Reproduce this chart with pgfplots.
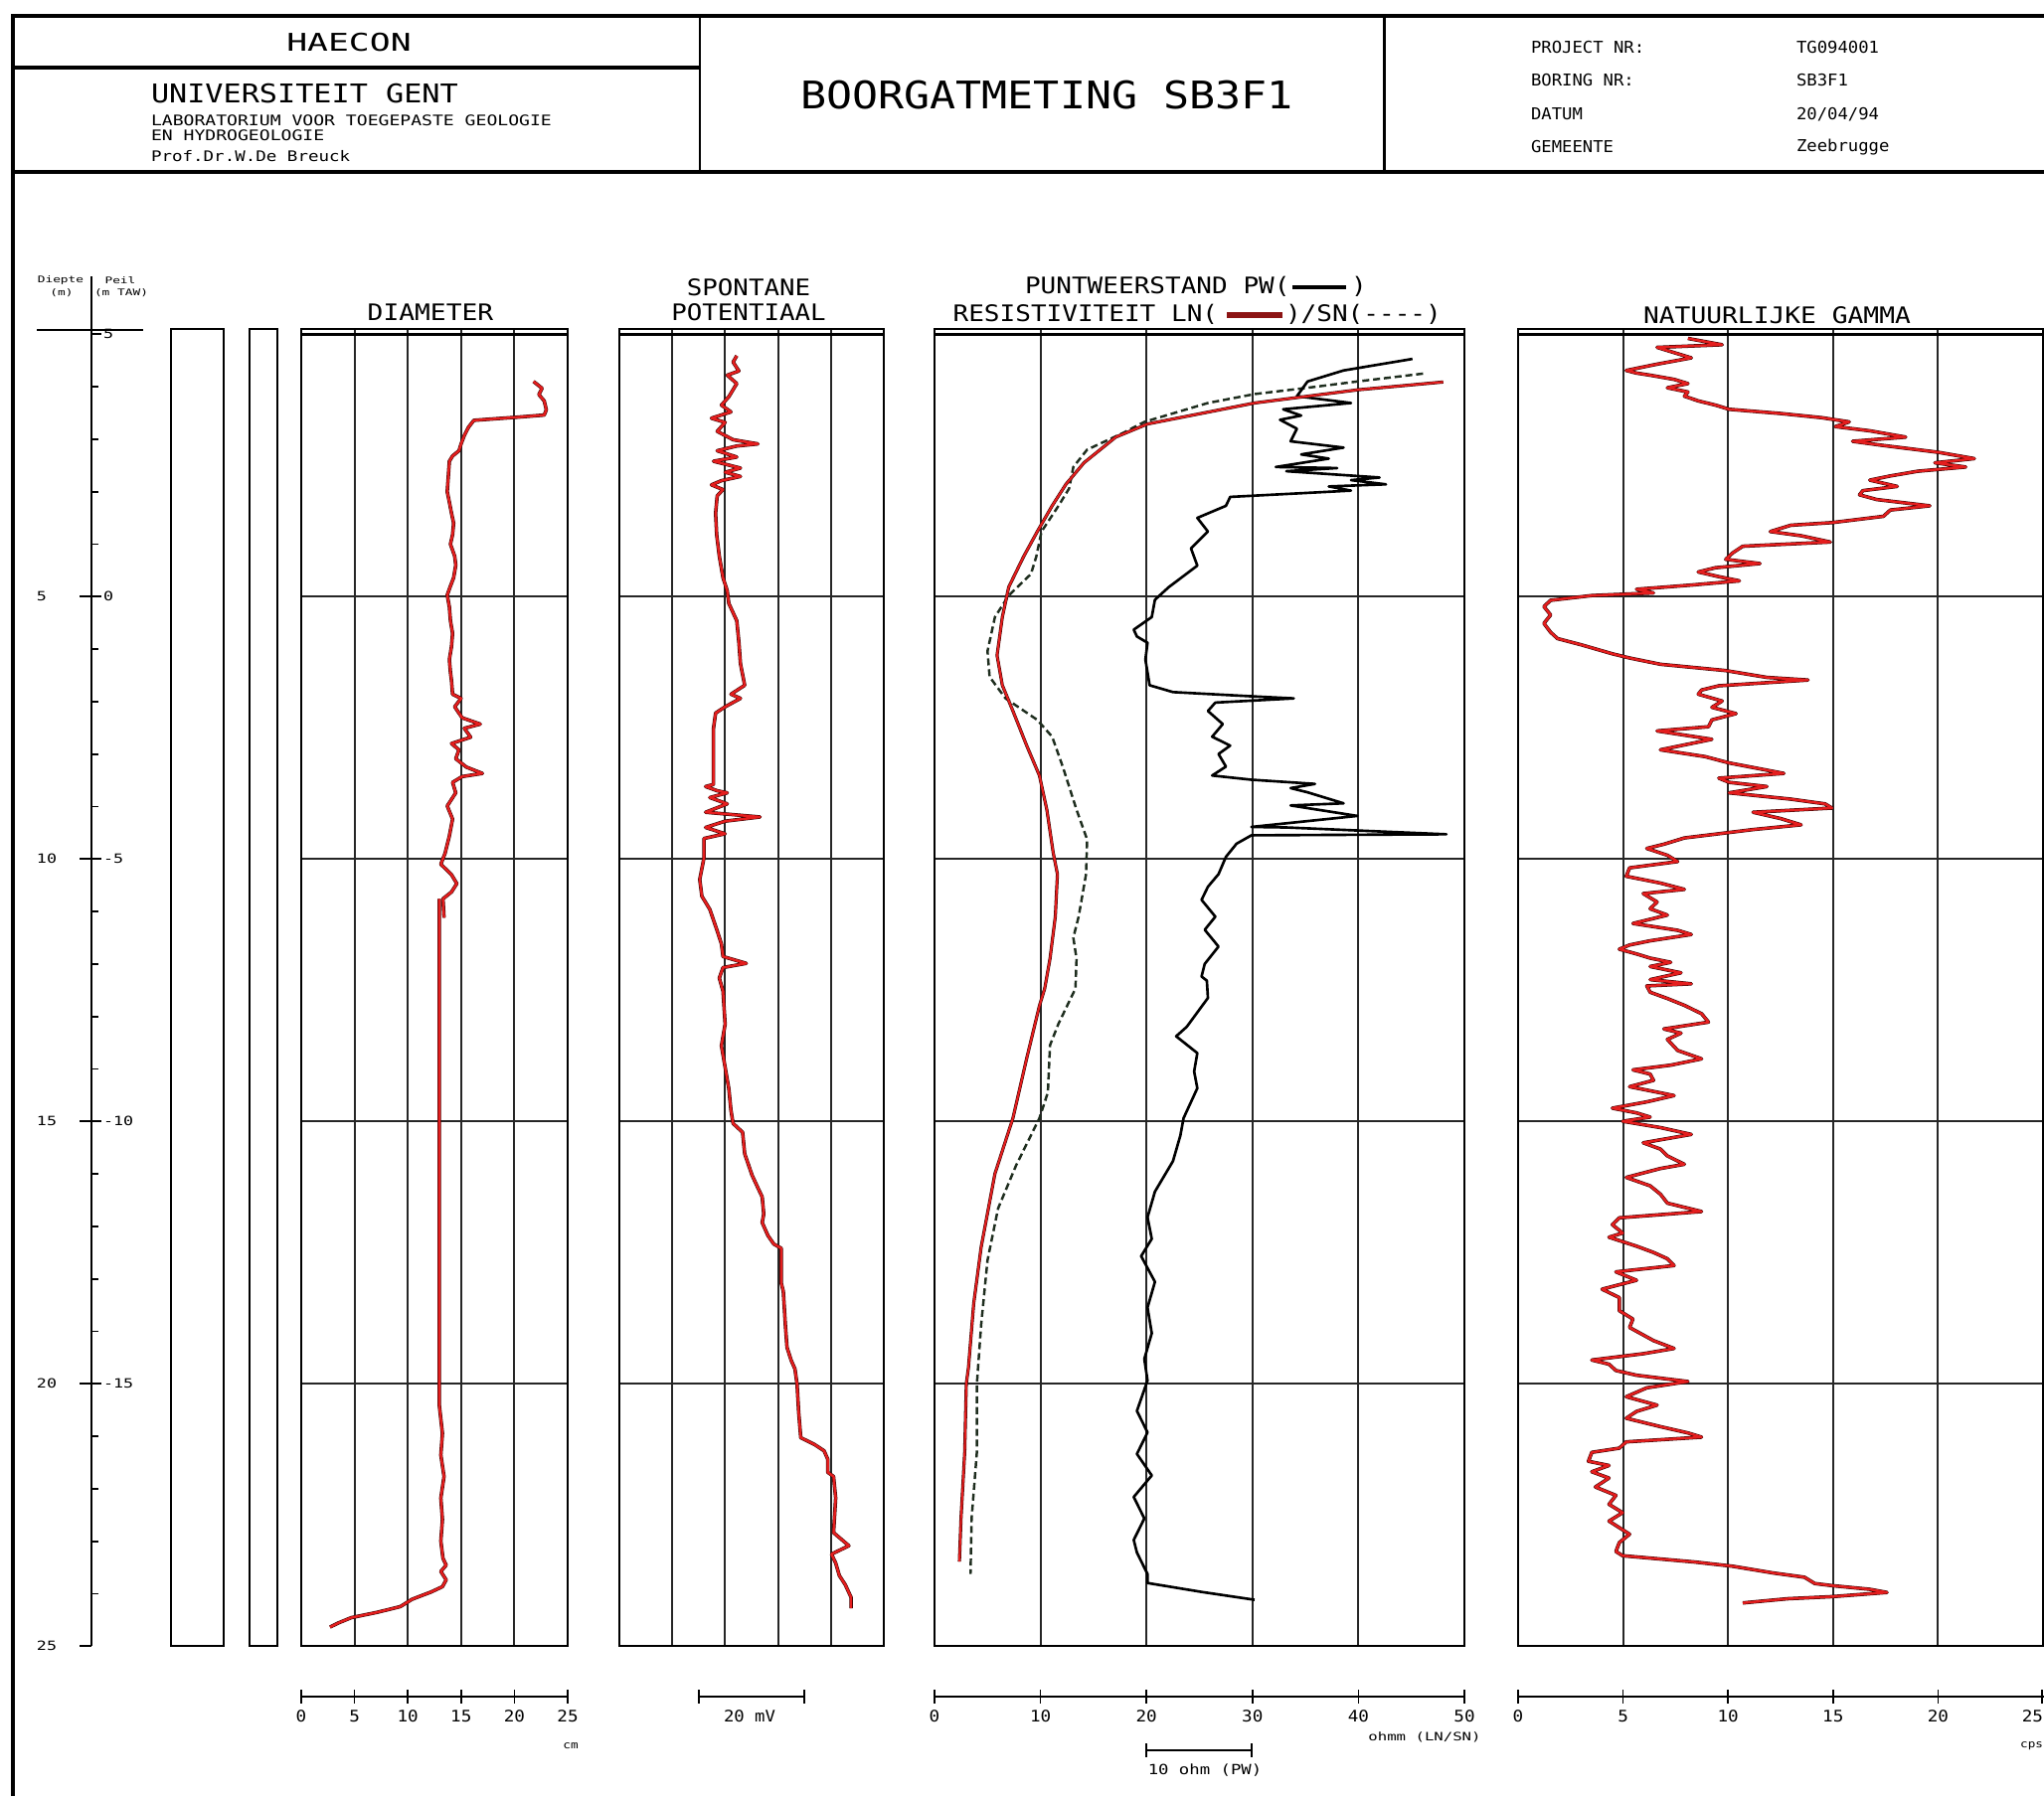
\documentclass[border=0pt]{standalone}
\usepackage{pgfplots}
\pgfplotsset{compat=1.18}
\usepackage{pgfplotstable}
\usepackage{graphicx}
\usepackage{fontspec}
\setmainfont{DejaVu Sans Mono}
\newcommand{\tx}[3]{\scalebox{#2}[1]{\fontsize{#1pt}{#1pt}\selectfont #3}}
\definecolor{curvered}{RGB}{228,30,30}
\definecolor{legred}{RGB}{140,20,20}
\definecolor{sncol}{RGB}{30,45,30}

\pgfplotstableread{
v d
21.8 0.90
22.6 1.03
22.3 1.15
22.8 1.27
23.0 1.44
22.8 1.54
20.3 1.58
16.2 1.64
15.7 1.77
15.3 1.93
15.0 2.09
14.8 2.22
14.2 2.32
13.9 2.42
13.7 3.0
13.9 3.2
14.1 3.41
14.3 3.6
14.2 3.82
14.0 4.0
14.4 4.23
14.5 4.4
14.3 4.64
14.0 4.8
13.7 4.97
13.9 5.2
14.0 5.46
14.2 5.7
14.1 5.95
13.9 6.2
14.0 6.44
14.1 6.6
14.2 6.86
15.0 6.94
14.4 7.10
15.1 7.31
16.8 7.43
15.3 7.51
15.9 7.68
14.1 7.80
14.8 7.92
14.5 8.09
15.5 8.25
17.0 8.37
15.1 8.43
14.2 8.54
14.5 8.74
13.7 8.99
14.2 9.24
13.9 9.56
13.5 9.89
13.1 10.10
14.1 10.30
14.6 10.47
14.1 10.63
13.3 10.76
13.4 11.12
}\diamA

\pgfplotstableread{
v d
12.96 10.76
12.96 20.42
13.25 20.95
13.1 21.36
13.4 21.77
13.1 22.18
13.25 22.59
13.1 23.0
13.3 23.33
13.6 23.46
13.1 23.58
13.6 23.74
13.25 23.87
12.2 23.97
10.4 24.11
9.3 24.25
7.1 24.36
4.7 24.46
3.5 24.56
2.7 24.64
}\diamB

\pgfplotstableread{
v d
22.2 0.41
21.5 0.53
22.6 0.70
20.4 0.78
22.2 0.94
20.7 1.19
19.3 1.35
21.1 1.48
17.4 1.60
20.0 1.68
18.5 1.85
21.5 2.01
26.2 2.09
22.2 2.13
18.5 2.22
22.2 2.34
17.8 2.42
22.9 2.55
20.0 2.63
22.9 2.71
19.3 2.79
17.4 2.87
19.6 2.96
18.5 3.08
18.2 3.41
18.4 3.82
18.9 4.23
19.6 4.64
20.4 4.89
20.7 5.13
22.2 5.46
22.6 5.87
22.9 6.28
23.7 6.69
21.1 6.86
22.9 6.94
20.0 7.10
18.2 7.22
17.8 7.51
17.8 7.92
17.8 8.33
17.8 8.58
16.3 8.62
18.5 8.70
20.4 8.74
17.1 8.83
20.4 8.95
16.3 9.11
26.6 9.20
20.0 9.28
16.3 9.40
20.0 9.52
16.0 9.61
16.0 9.98
15.2 10.39
15.6 10.71
17.1 10.96
18.5 11.37
19.3 11.62
19.6 11.86
24.0 11.99
19.6 12.07
18.9 12.27
19.6 12.52
20.0 13.15
19.3 13.56
20.0 13.97
20.7 14.38
21.1 14.79
21.5 15.04
23.3 15.21
23.7 15.62
25.1 16.03
26.2 16.27
27.0 16.44
27.3 16.77
27.0 16.93
28.1 17.18
29.2 17.34
30.6 17.42
30.6 18.08
31.0 18.24
31.4 18.90
31.7 19.31
32.5 19.56
33.2 19.72
33.6 20.01
33.9 20.54
34.3 21.03
36.9 21.16
38.7 21.28
39.4 21.44
39.4 21.69
40.5 21.77
40.9 22.18
40.5 22.84
43.4 23.09
40.1 23.25
40.9 23.42
41.6 23.66
42.7 23.83
43.8 24.07
43.8 24.28
}\spdata

\pgfplotstableread{
v d
48.0 0.91
39.9 1.06
30.2 1.31
20.1 1.71
17.1 1.96
14.1 2.45
12.4 2.86
11.1 3.27
9.7 3.76
8.4 4.24
7.0 4.82
6.4 5.39
5.9 6.12
6.4 6.69
7.4 7.18
8.7 7.84
9.9 8.41
10.6 9.06
11.2 9.88
11.6 10.29
11.4 11.1
10.9 11.9
10.4 12.47
9.9 12.8
8.7 13.8
7.4 14.94
5.7 16.0
4.4 17.4
3.7 18.47
3.2 19.7
3.0 20.0
2.85 21.3
2.5 22.57
2.35 23.39
}\lndata

\pgfplotstableread{
v d
46.1 0.75
39.9 0.9
35.2 1.02
30.2 1.14
25.8 1.31
19.8 1.67
17.8 1.88
14.4 2.2
13.1 2.53
12.7 2.94
11.7 3.27
10.1 3.76
9.6 4.24
9.1 4.57
7.0 4.98
5.7 5.39
5.0 6.04
5.2 6.53
6.7 6.94
9.7 7.35
11.1 7.67
12.1 8.24
13.4 9.06
14.4 9.63
14.3 10.29
13.6 11.1
13.1 11.5
13.4 11.9
13.3 12.47
11.7 13.14
10.9 13.55
10.7 14.45
9.9 14.94
7.7 15.84
6.0 16.66
5.0 17.65
4.4 18.88
4.0 20.0
4.0 21.3
3.5 22.57
3.4 23.63
}\sndata

\pgfplotstableread{
v d
45.1 0.47
38.6 0.69
35.2 0.9
34.2 1.18
39.3 1.31
32.9 1.43
34.6 1.55
32.6 1.63
34.2 1.8
33.6 2.04
38.6 2.16
34.6 2.29
37.2 2.37
32.2 2.53
38.0 2.55
33.2 2.61
42.0 2.73
39.3 2.78
42.6 2.86
37.2 2.9
39.3 2.98
27.9 3.1
27.5 3.27
24.8 3.5
25.8 3.76
24.2 4.08
24.8 4.41
22.1 4.82
20.8 5.06
20.5 5.39
18.8 5.63
19.1 5.76
20.1 5.88
19.9 6.2
20.3 6.69
22.5 6.82
29.9 6.9
33.9 6.94
30.2 6.98
26.5 7.02
25.8 7.18
27.2 7.43
26.2 7.67
27.9 7.84
26.8 8.0
27.5 8.24
26.2 8.41
29.9 8.49
35.9 8.57
33.6 8.65
35.2 8.73
38.6 8.94
33.6 8.98
39.9 9.18
29.9 9.39
33.2 9.4
48.3 9.53
29.9 9.55
28.5 9.71
27.5 9.96
26.8 10.29
25.8 10.53
25.2 10.78
26.5 11.1
25.5 11.35
26.8 11.67
25.5 12.0
25.2 12.24
25.7 12.32
25.8 12.65
23.8 13.2
22.8 13.38
24.8 13.7
24.5 14.05
24.8 14.37
23.5 14.94
23.2 15.27
22.5 15.76
20.8 16.34
20.1 16.83
20.5 17.24
19.5 17.57
20.8 18.06
20.1 18.55
20.5 19.04
19.8 19.53
20.1 19.94
19.1 20.52
20.1 20.93
19.1 21.34
20.5 21.75
18.8 22.16
19.8 22.57
18.8 22.98
19.1 23.22
20.1 23.63
20.1 23.8
25.2 23.97
30.2 24.12
}\pwdata

\pgfplotstableread{
v d
8.09 0.08
9.72 0.20
6.62 0.25
7.27 0.33
8.25 0.45
6.62 0.57
5.64 0.65
5.15 0.69
5.64 0.74
6.29 0.78
7.43 0.86
8.09 0.94
7.11 1.02
8.09 1.10
7.92 1.18
8.58 1.27
9.40 1.35
10.05 1.43
12.50 1.51
14.46 1.59
15.77 1.67
15.11 1.76
16.75 1.84
18.46 1.96
15.93 2.04
17.40 2.12
20.02 2.25
21.73 2.37
19.85 2.45
21.32 2.53
19.04 2.61
17.73 2.70
16.75 2.78
18.06 2.90
16.42 2.98
16.26 3.06
17.08 3.15
19.61 3.27
17.73 3.35
17.40 3.47
14.95 3.59
12.99 3.64
12.01 3.76
13.48 3.84
14.87 3.96
10.70 4.04
10.21 4.17
9.89 4.29
11.52 4.37
9.40 4.45
8.58 4.53
9.56 4.62
10.54 4.70
8.25 4.78
5.64 4.86
6.45 4.93
3.51 4.98
1.55 5.07
1.23 5.19
1.55 5.35
1.23 5.51
1.55 5.68
1.88 5.80
3.02 5.92
4.49 6.09
5.31 6.17
6.78 6.29
9.89 6.41
11.85 6.54
13.81 6.59
9.56 6.70
8.74 6.78
8.58 6.86
9.72 6.99
9.23 7.11
10.38 7.23
9.23 7.35
9.07 7.48
6.62 7.56
7.92 7.64
9.23 7.72
8.25 7.80
6.78 7.92
8.91 8.05
10.05 8.17
12.66 8.37
9.56 8.46
10.05 8.54
11.85 8.62
10.05 8.74
12.99 8.86
14.62 8.95
14.95 9.03
11.19 9.11
12.50 9.23
13.48 9.35
11.19 9.44
9.56 9.52
7.92 9.60
6.94 9.72
6.13 9.80
7.11 9.93
7.60 10.05
5.31 10.17
5.15 10.33
6.78 10.46
7.92 10.58
5.96 10.66
6.62 10.82
6.29 10.95
7.11 11.07
5.47 11.23
7.60 11.36
8.25 11.44
6.29 11.56
5.31 11.64
4.82 11.72
5.64 11.81
6.29 11.89
7.27 11.97
6.29 12.05
7.76 12.17
6.29 12.30
8.25 12.38
6.13 12.42
6.29 12.54
7.11 12.66
7.92 12.79
8.74 12.95
9.07 13.11
6.94 13.24
7.76 13.32
7.11 13.44
7.60 13.65
8.74 13.81
7.27 13.93
5.47 14.02
6.29 14.10
6.45 14.22
5.31 14.34
7.43 14.51
6.13 14.63
4.49 14.75
5.64 14.84
6.29 14.92
4.98 15.00
6.78 15.12
8.25 15.25
5.96 15.41
6.78 15.53
7.11 15.66
7.92 15.82
6.78 15.90
5.15 16.07
6.29 16.23
6.78 16.39
7.11 16.56
8.74 16.72
4.82 16.84
4.49 16.97
4.98 17.13
4.33 17.21
5.64 17.38
6.45 17.50
7.11 17.62
7.43 17.75
4.66 17.87
5.64 18.03
4.00 18.20
4.82 18.36
4.82 18.61
5.47 18.77
5.31 18.93
6.45 19.18
7.43 19.33
5.96 19.43
3.51 19.55
4.33 19.63
4.66 19.75
5.64 19.84
8.09 19.96
6.13 20.08
5.15 20.25
6.62 20.41
5.64 20.53
5.15 20.66
6.78 20.82
8.09 20.94
8.74 21.02
5.15 21.11
4.82 21.23
3.51 21.31
3.35 21.48
4.33 21.56
3.51 21.68
4.33 21.80
3.68 21.97
4.66 22.13
4.33 22.30
4.98 22.46
4.33 22.62
5.31 22.87
4.82 23.03
4.66 23.20
4.98 23.28
8.42 23.40
10.21 23.48
12.17 23.61
13.64 23.69
14.13 23.81
14.95 23.85
16.75 23.92
17.57 23.98
14.95 24.06
12.83 24.10
10.70 24.18
}\gammadata

\pgfplotsset{
  track/.style={
    scale only axis, anchor=north west,
    y dir=reverse, ymin=-0.1, ymax=25, height=132.5mm,
    axis line style={line width=0.7pt, black},
    grid=major, major grid style={line width=0.55pt, black!85},
    ytick={5,10,15,20}, yticklabels={}, xticklabels={},
    major tick length=0pt, tick style={draw=none},
  },
  redcurve/.style={curvered, line width=0.7pt, line join=round},
  blackunder/.style={black!80!red, line width=1.0pt, line join=round},
}

\begin{document}
\begin{tikzpicture}[x=0.1mm,y=-0.1mm, every node/.style={inner sep=0pt, outer sep=0pt}]
\useasboundingbox (0,0) rectangle (2056,1807);

% header frame
\draw[line width=0.9pt] (13,1807) -- (13,16) -- (2056,16);
\draw[line width=0.9pt] (13,173) -- (2056,173);
\draw[line width=0.9pt] (13,68) -- (704,68);
\draw[line width=0.7pt] (704,16) -- (704,173);
\draw[line width=0.7pt] (1392.5,16) -- (1392.5,173);

\node at (351,42.5) {\tx{7.0}{1.41}{HAECON}};
\node[anchor=west] at (152,94.5) {\tx{7.4}{1.16}{UNIVERSITEIT GENT}};
\node[anchor=west] at (152,121) {\tx{4.15}{1.24}{LABORATORIUM VOOR TOEGEPASTE GEOLOGIE}};
\node[anchor=west] at (152,136) {\tx{4.15}{1.24}{EN HYDROGEOLOGIE}};
\node[anchor=west] at (152,157.5) {\tx{4.15}{1.2}{Prof.Dr.W.De Breuck}};
\node at (1053,96) {\tx{10.9}{1.13}{BOORGATMETING SB3F1}};
\node[anchor=west] at (1540,47.5) {\tx{4.67}{1.05}{PROJECT NR:}};
\node[anchor=west] at (1807,47.5) {\tx{4.67}{1.05}{TG094001}};
\node[anchor=west] at (1540,81) {\tx{4.67}{1.05}{BORING NR:}};
\node[anchor=west] at (1807,81) {\tx{4.67}{1.05}{SB3F1}};
\node[anchor=west] at (1540,115) {\tx{4.67}{1.05}{DATUM}};
\node[anchor=west] at (1807,115) {\tx{4.67}{1.05}{20/04/94}};
\node[anchor=west] at (1540,148) {\tx{4.67}{1.05}{GEMEENTE}};
\node[anchor=west] at (1807,148) {\tx{4.67}{1.05}{Zeebrugge}};

% column titles
\node at (61,282) {\tx{2.6}{1.4}{Diepte}};
\node at (62,295) {\tx{2.6}{1.4}{(m)}};
\node at (121,282) {\tx{2.6}{1.4}{Peil}};
\node at (122,295) {\tx{2.6}{1.4}{(m TAW)}};
\node at (433,314) {\tx{6.5}{1.15}{DIAMETER}};
\node at (753,289) {\tx{6.5}{1.13}{SPONTANE}};
\node at (753,314) {\tx{6.5}{1.13}{POTENTIAAL}};
\node[anchor=west] at (1031,288.5) {\tx{6.5}{1.14}{PUNTWEERSTAND PW(}};
\draw[line width=1.3pt, black] (1300,289) -- (1354,289);
\node[anchor=west] at (1359,288.5) {\tx{6.5}{1.14}{)}};
\node[anchor=west] at (958.6,316) {\tx{6.5}{1.14}{RESISTIVITEIT LN(}};
\draw[line width=1.8pt, legred] (1234,317) -- (1290,317);
\node[anchor=west] at (1293,316) {\tx{6.5}{1.14}{)/SN(-{}-{}-{}-)}};
\node at (1787.5,317.5) {\tx{6.5}{1.15}{NATUURLIJKE GAMMA}};

% depth axis
\draw[line width=0.7pt] (92,278) -- (92,1656);
\draw[line width=0.7pt] (37,332) -- (144,332);
\foreach \d in {1,...,24} {\draw[line width=0.5pt] (92,{336.3+52.8*\d}) -- ++(7,0);}
\foreach \d/\p in {0/5,5/0,10/-5,15/-10,20/-15} {
  \draw[line width=0.6pt] (92,{336.3+52.8*\d}) -- ++(10,0);
  \node[anchor=west] at (104,{336.3+52.8*\d}) {\tx{3.64}{1.3}{\p}};
}
\foreach \d in {5,10,15,20,25} {
  \draw[line width=0.6pt] (80,{336.3+52.8*\d}) -- (92,{336.3+52.8*\d});
  \node[anchor=west] at (37,{336.3+52.8*\d}) {\tx{3.64}{1.3}{\d}};
}
\draw[line width=0.7pt] (172,331) rectangle (225,1656);
\draw[line width=0.7pt] (251,331) rectangle (279,1656);

% DIAMETER
\begin{axis}[track, at={(30.3mm,-33.1mm)}, width=26.8mm, xmin=0, xmax=25, xtick={5,10,15,20}]
\draw[line width=0.7pt] (axis cs:0,0) -- (axis cs:25,0);
\addplot[blackunder] table[x=v,y=d]{\diamA};
\addplot[redcurve] table[x=v,y=d]{\diamA};
\addplot[blackunder] table[x=v,y=d]{\diamB};
\addplot[redcurve] table[x=v,y=d]{\diamB};
\end{axis}

% SP
\begin{axis}[track, at={(62.3mm,-33.1mm)}, width=26.6mm, xmin=0, xmax=50, xtick={10,20,30,40}]
\draw[line width=0.7pt] (axis cs:0,0) -- (axis cs:50,0);
\addplot[blackunder] table[x=v,y=d]{\spdata};
\addplot[redcurve] table[x=v,y=d]{\spdata};
\end{axis}

% RESISTIVITY
\begin{axis}[track, at={(94.0mm,-33.1mm)}, width=53.3mm, xmin=0, xmax=50, xtick={10,20,30,40}]
\draw[line width=0.7pt] (axis cs:0,0) -- (axis cs:50,0);
\addplot[sncol, line width=0.7pt, dash pattern=on 2pt off 1.1pt] table[x=v,y=d]{\sndata};
\addplot[black, line width=0.75pt, line join=round] table[x=v,y=d]{\pwdata};
\addplot[blackunder, line width=0.9pt] table[x=v,y=d]{\lndata};
\addplot[redcurve, line width=0.6pt] table[x=v,y=d]{\lndata};
\end{axis}

% GAMMA
\begin{axis}[track, at={(152.7mm,-33.1mm)}, width=52.8mm, xmin=0, xmax=25, xtick={5,10,15,20}]
\draw[line width=0.7pt] (axis cs:0,0) -- (axis cs:25,0);
\addplot[blackunder] table[x=v,y=d]{\gammadata};
\addplot[redcurve] table[x=v,y=d]{\gammadata};
\end{axis}

% bottom scales
\draw[line width=0.7pt] (303,1707) -- (571,1707);
\foreach \k in {0,...,5} {
  \draw[line width=0.5pt] ({303+53.6*\k},1700) -- ({303+53.6*\k},1714);
  \pgfmathtruncatemacro{\lab}{5*\k}
  \node at ({303+53.6*\k},1727) {\tx{4.55}{1.1}{\lab}};
}
\node at (574,1757) {\tx{3.0}{1.2}{cm}};

\draw[line width=0.8pt] (703,1707) -- (809,1707);
\draw[line width=0.5pt] (703,1700) -- (703,1714) (809,1700) -- (809,1714);
\node at (754,1727) {\tx{4.55}{1.08}{20 mV}};

\draw[line width=0.7pt] (940,1707) -- (1473,1707);
\foreach \k in {0,...,5} {
  \draw[line width=0.5pt] ({940+106.6*\k},1700) -- ({940+106.6*\k},1714);
  \pgfmathtruncatemacro{\lab}{10*\k}
  \node at ({940+106.6*\k},1727) {\tx{4.55}{1.1}{\lab}};
}
\node at (1433,1748) {\tx{3.3}{1.35}{ohmm (LN/SN)}};
\draw[line width=0.8pt] (1153,1761) -- (1259,1761);
\draw[line width=0.5pt] (1153,1754) -- (1153,1768) (1259,1754) -- (1259,1768);
\node at (1212,1781) {\tx{4.0}{1.23}{10 ohm (PW)}};

\draw[line width=0.7pt] (1527,1707) -- (2056,1707);
\foreach \k in {0,...,4} {
  \draw[line width=0.5pt] ({1527+105.6*\k},1700) -- ({1527+105.6*\k},1714);
  \pgfmathtruncatemacro{\lab}{5*\k}
  \node at ({1527+105.6*\k},1727) {\tx{4.55}{1.1}{\lab}};
}
\draw[line width=0.5pt] (2054,1700) -- (2054,1714);
\node[anchor=east] at (2055,1727) {\tx{4.55}{1.1}{25}};
\node[anchor=east] at (2055,1757) {\tx{3.0}{1.2}{cps}};
\end{tikzpicture}
\end{document}
